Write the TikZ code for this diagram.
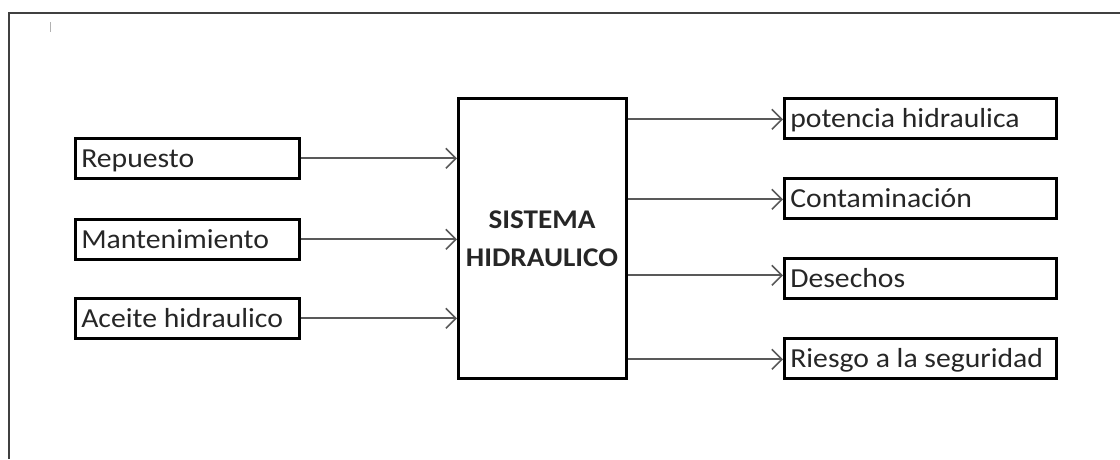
\documentclass[tikz,border=0pt]{standalone}
\usepackage{fontspec}
\setmainfont{Carlito}[FakeStretch=1.08]
\usetikzlibrary{arrows.meta}
% left-aligned label filling a fixed-width box, never wrapped
\newcommand{\inlabel}[1]{\makebox[212pt][l]{#1}}
\newcommand{\outlabel}[1]{\makebox[260pt][l]{#1}}
\begin{document}
\begin{tikzpicture}[x=1pt,y=-1pt,
  box/.style={draw=black, line width=2.6pt, anchor=north west,
    minimum height=40pt, inner xsep=6pt, inner ysep=0pt,
    text height=21pt, text depth=3pt,
    font=\fontsize{27.5}{30}\selectfont, text=black!85},
  flow/.style={draw=black!65, line width=1.7pt,
    -{Straight Barb[length=10pt,width=20pt,line width=1.6pt]}},
  frame/.style={draw=black!75, line width=1.5pt}]
\useasboundingbox (0,0) rectangle (1120,459);

% page frame: only the top and left edges show
\coordinate (ftop) at (1120,13);
\coordinate (fcorner) at (9,13);
\coordinate (fbot) at (9,459);
\draw[frame] (ftop) -- (fcorner) -- (fbot);
\coordinate (tickA) at (50,22);
\coordinate (tickB) at (50,32);
\draw[black!30, line width=0.8pt] (tickA) -- (tickB);

% central system block
\node[draw=black, line width=2.6pt, anchor=north west,
      minimum width=168pt, minimum height=280pt, inner sep=0pt] (sys) at (457,97) {};
\node[font=\fontsize{27}{38}\selectfont\bfseries, align=center, text=black!85]
  (syslabel) at (542,239) {SISTEMA\\HIDRAULICO};

% inputs
\node[box] (rep) at (74,137) {\inlabel{Repuesto}};
\node[box] (man) at (74,218) {\inlabel{Mantenimiento}};
\node[box] (ace) at (74,297) {\inlabel{Aceite hidraulico}};

% outputs
\node[box] (pot) at (783,97)  {\outlabel{potencia hidraulica}};
\node[box] (con) at (783,177) {\outlabel{Contaminación}};
\node[box] (des) at (783,257) {\outlabel{Desechos}};
\node[box] (rie) at (783,337) {\outlabel{Riesgo a la seguridad}};

% flows into the system
\draw[flow] (rep.east) -- (rep.east -| sys.west);
\draw[flow] (man.east) -- (man.east -| sys.west);
\draw[flow] (ace.east) -- (ace.east -| sys.west);

% flows out of the system
\draw[flow] ([yshift=-1pt]sys.east |- pot.west) -- ([yshift=-1pt]pot.west);
\draw[flow] ([yshift=-1pt]sys.east |- con.west) -- ([yshift=-1pt]con.west);
\draw[flow] ([yshift=3pt]sys.east |- des.west) -- ([yshift=3pt]des.west);
\draw[flow] ([yshift=-1pt]sys.east |- rie.west) -- ([yshift=-1pt]rie.west);
\end{tikzpicture}
\end{document}
